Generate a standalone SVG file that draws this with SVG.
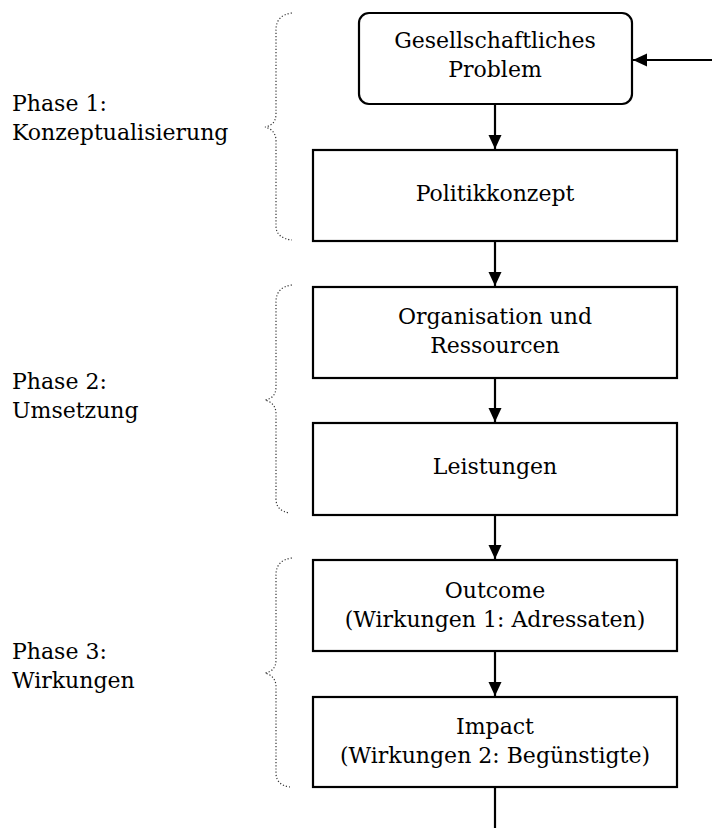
<svg xmlns="http://www.w3.org/2000/svg" width="712" height="828" viewBox="0 0 712 828">
<style>
.box{fill:#fff;stroke:#000;stroke-width:2.2}
.t{font-family:"DejaVu Serif","Liberation Serif",serif;font-size:22px;fill:#000;text-anchor:middle}
.l{font-family:"DejaVu Serif","Liberation Serif",serif;font-size:22px;fill:#000}
.c{stroke:#000;stroke-width:2.2;fill:none}
.br{stroke:#333;stroke-width:1.2;fill:none;stroke-dasharray:1.2 2}
</style>
<defs>
<marker id="ah" markerWidth="14" markerHeight="14" refX="14" refY="6.5" orient="auto" markerUnits="userSpaceOnUse">
<path d="M0,0 L14,6.5 L0,13 Z" fill="#000"/>
</marker>
</defs>
<rect width="712" height="828" fill="#fff"/>
<g id="braces">
<path class="br" d="M292,13 Q276,15 276,30 L276,114 Q276,125 265,127 Q276,130 276,141 L276,226 Q276,238 292,240"/>
<path class="br" d="M292,285 Q276,287 276,302 L276,387 Q276,398 265,400 Q276,403 276,414 L276,499 Q276,511 290,513"/>
<path class="br" d="M292,558 Q276,560 276,575 L276,660 Q276,671 265,673 Q276,676 276,687 L276,773 Q276,785 290,787"/>
</g>
<g id="phase1"><text class="l" x="12" y="111">Phase 1:</text><text class="l" x="12" y="140">Konzeptualisierung</text></g>
<g id="phase2"><text class="l" x="12" y="389">Phase 2:</text><text class="l" x="12" y="418">Umsetzung</text></g>
<g id="phase3"><text class="l" x="12" y="659">Phase 3:</text><text class="l" x="12" y="688">Wirkungen</text></g>
<g id="connectors">
<line class="c" x1="712" y1="60" x2="633" y2="60" marker-end="url(#ah)"/>
<line class="c" x1="495" y1="104" x2="495" y2="149" marker-end="url(#ah)"/>
<line class="c" x1="495" y1="241" x2="495" y2="286" marker-end="url(#ah)"/>
<line class="c" x1="495" y1="378" x2="495" y2="422" marker-end="url(#ah)"/>
<line class="c" x1="495" y1="515" x2="495" y2="559" marker-end="url(#ah)"/>
<line class="c" x1="495" y1="651" x2="495" y2="696" marker-end="url(#ah)"/>
<line class="c" x1="495" y1="787" x2="495" y2="828"/>
</g>
<g id="problem"><rect class="box" x="359" y="13" width="273" height="91" rx="10"/>
<text class="t" x="495" y="48">Gesellschaftliches</text><text class="t" x="495" y="77">Problem</text></g>
<g id="politikkonzept"><rect class="box" x="313" y="150" width="364" height="91"/>
<text class="t" x="495" y="201">Politikkonzept</text></g>
<g id="organisation"><rect class="box" x="313" y="287" width="364" height="91"/>
<text class="t" x="495" y="324">Organisation und</text><text class="t" x="495" y="353">Ressourcen</text></g>
<g id="leistungen"><rect class="box" x="313" y="423" width="364" height="92"/>
<text class="t" x="495" y="474">Leistungen</text></g>
<g id="outcome"><rect class="box" x="313" y="560" width="364" height="91"/>
<text class="t" x="495" y="598">Outcome</text><text class="t" x="495" y="627">(Wirkungen 1: Adressaten)</text></g>
<g id="impact"><rect class="box" x="313" y="697" width="364" height="90"/>
<text class="t" x="495" y="734">Impact</text><text class="t" x="495" y="763">(Wirkungen 2: Begünstigte)</text></g>
</svg>
